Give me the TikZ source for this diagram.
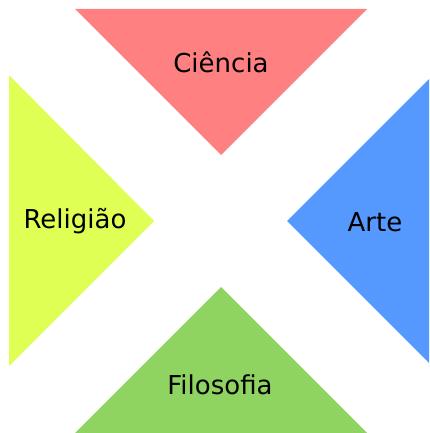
\documentclass[tikz,border=0pt]{standalone}
\usepackage{fontspec}
\setmainfont{DejaVu Sans}
\definecolor{ciencia}{HTML}{FF8080}
\definecolor{religiao}{HTML}{DFFF55}
\definecolor{arte}{HTML}{5599FF}
\definecolor{filosofia}{HTML}{8FD460}
\tikzset{rotulo/.style={anchor=base,inner sep=0pt,font=\fontsize{26}{30}\selectfont}}
\begin{document}
\begin{tikzpicture}[x=1pt,y=-1pt]
                \useasboundingbox (0,0) rectangle (429,433);
                \fill[ciencia] (75,9)--(367,9)--(221,155)--cycle;
                \fill[religiao] (9,75)--(9,366)--(154,221)--cycle;
                \fill[arte] (429,79)--(429,363)--(287,221)--cycle;
                \fill[filosofia] (221,287)--(367,433)--(75,433)--cycle;
                \node[rotulo] (c) at(221,73) {Ciência};
                \node[rotulo] (r) at(75,228) {Religião};
                \node[rotulo] (a) at(375,231) {Arte};
                \node[rotulo] (f) at(220,394) {Filosofia};
            \end{tikzpicture}
\end{document}
